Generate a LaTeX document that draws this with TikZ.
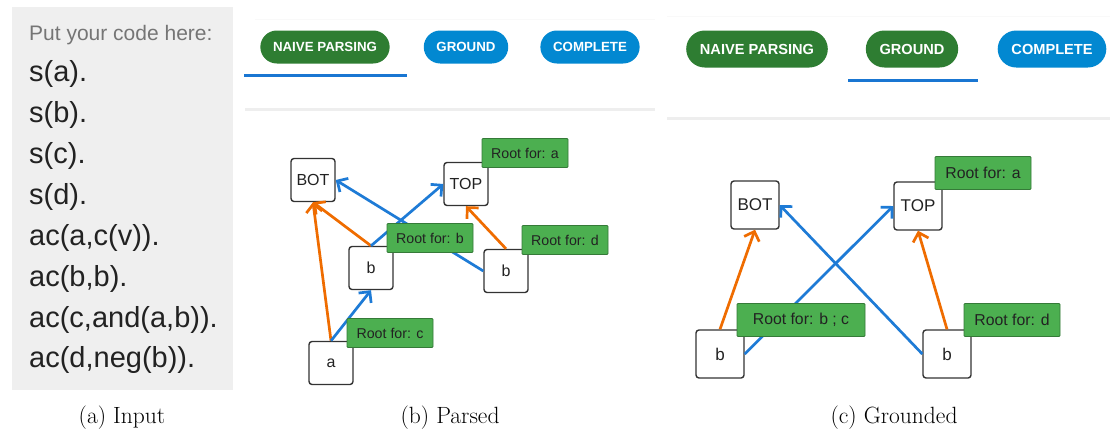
\documentclass[tikz,border=0pt]{standalone}
\usepackage{fontspec}
\newfontfamily\uifont{Liberation Sans}
\usetikzlibrary{arrows.meta,shapes.misc}

\definecolor{panelgray}{HTML}{EFEFEF}
\definecolor{hintgray}{HTML}{757575}
\definecolor{codeink}{HTML}{222222}
\definecolor{pillgreen}{HTML}{2E7D32}
\definecolor{pillblue}{HTML}{0288D1}
\definecolor{tabline}{HTML}{1976D2}
\definecolor{sepgray}{HTML}{EEEEEE}
\definecolor{boxline}{HTML}{333333}
\definecolor{rootgreen}{HTML}{4CAF50}
\definecolor{rootline}{HTML}{357A38}
\definecolor{edgeblue}{HTML}{1E7BD6}
\definecolor{edgeorange}{HTML}{EF6C00}

\tikzset{
  codeline/.style={anchor=base west, inner sep=0pt, text=codeink, font=\uifont\fontsize{29}{32}\selectfont},
  pillb/.style={shape=rounded rectangle, inner xsep=12pt, minimum height=33pt, inner ysep=0pt, text=white, font=\uifont\bfseries\fontsize{13.3}{15}\selectfont},
  pillc/.style={pillb, inner xsep=13pt, minimum height=37pt, font=\uifont\bfseries\fontsize{14.6}{16}\selectfont},
  vbox/.style={draw=boxline, line width=1.4pt, rounded corners=3pt, fill=white, inner sep=0pt, minimum width=44pt, minimum height=43pt, text=codeink, font=\uifont\fontsize{16}{18}\selectfont},
  vboxc/.style={vbox, minimum width=48pt, minimum height=48pt, font=\uifont\fontsize{17}{19}\selectfont},
  rootlbl/.style={draw=rootline, line width=0.8pt, rounded corners=1pt, fill=rootgreen, inner sep=0pt, minimum width=86pt, minimum height=29pt, text=codeink, font=\uifont\fontsize{14.2}{16}\selectfont},
  rootlblc/.style={rootlbl, minimum width=96pt, minimum height=33pt, font=\uifont\fontsize{15.8}{18}\selectfont},
  eblue/.style={draw=edgeblue, line width=2.7pt, -{Straight Barb[length=8pt,width=16pt,line width=2.7pt]}},
  eorange/.style={eblue, draw=edgeorange},
  caption/.style={font=\fontsize{23.5}{26}\selectfont}
}

\begin{document}
\begin{tikzpicture}[x=1pt,y=-1pt]
\useasboundingbox[fill=white] (0,0) rectangle (1110,434);

% (a) input
\fill[panelgray] (12,7) rectangle (233,390);
\node[codeline, text=hintgray, font=\uifont\fontsize{21}{24}\selectfont] (hint) at (29,40) {Put your code here:};
\node[codeline] (l1) at (29,81) {s(a).};
\node[codeline] (l2) at (29,122) {s(b).};
\node[codeline] (l3) at (29,163) {s(c).};
\node[codeline] (l4) at (29,204) {s(d).};
\node[codeline] (l5) at (29,245) {ac(a,c(v)).};
\node[codeline] (l6) at (29,286) {ac(b,b).};
\node[codeline] (l7) at (29,327) {ac(c,and(a,b)).};
\node[codeline] (l8) at (29,367) {ac(d,neg(b)).};

% (b) parsed
\draw[line width=0.6pt, draw=panelgray!35] (255,19) -- (655,19);
\node[pillb, fill=pillgreen] (naiveb) at (325,47) {NAIVE PARSING};
\node[pillb, fill=pillblue] (groundb) at (466,47) {GROUND};
\node[pillb, fill=pillblue] (completeb) at (590,47) {COMPLETE};
\draw[tabline, line width=3pt] (244,75) -- (407,75);
\draw[sepgray, line width=3pt] (245,109) -- (655,109);

\node[vbox] (botb) at (313,180) {BOT};
\node[vbox] (topb) at (466,184) {TOP};
\node[vbox] (bb) at (371,268) {b};
\node[vbox] (bdb) at (506,271) {b};
\node[vbox] (ab) at (331,363) {a};

\draw[eorange] (ab.north) -- (botb.south);
\draw[eblue] (ab.north) -- (bb.south);
\draw[eorange] (bb.north) -- (botb.south);
\draw[eblue] (bb.north) -- (topb.west);
\draw[eblue] (bdb.west) -- (botb.east);
\draw[eorange] (bdb.north) -- (topb.south);

\node[rootlbl] (rab) at (525,153) {Root for: a};
\node[rootlbl] (rbb) at (430,238) {Root for: b};
\node[rootlbl] (rdb) at (565,240) {Root for: d};
\node[rootlbl] (rcb) at (390,333) {Root for: c};

% (c) grounded
\draw[line width=0.6pt, draw=panelgray!35] (667,16) -- (1110,16);
\node[pillc, fill=pillgreen] (naivec) at (757,49) {NAIVE PARSING};
\node[pillc, fill=pillgreen] (groundc) at (912,49) {GROUND};
\node[pillc, fill=pillblue] (completec) at (1052,49) {COMPLETE};
\draw[tabline, line width=3pt] (848,80) -- (978,80);
\draw[sepgray, line width=3pt] (667,118) -- (1110,118);

\node[vboxc] (botc) at (755,205) {BOT};
\node[vboxc] (topc) at (918,206) {TOP};
\node[vboxc] (blc) at (720,354) {b};
\node[vboxc] (brc) at (947,354) {b};

\draw[eorange] (blc.north) -- (botc.south);
\draw[eblue] (blc.east) -- (topc.west);
\draw[eblue] (brc.west) -- (botc.east);
\draw[eorange] (brc.north) -- (topc.south);

\node[rootlblc] (rac) at (983,173) {Root for: a};
\node[rootlblc, minimum width=128pt] (rbcc) at (801,320) {Root for: b ; c};
\node[rootlblc] (rdc) at (1012,320) {Root for: d};

% captions
\node[caption] (capa) at (122,418) {(a) Input};
\node[caption] (capb) at (450,418) {(b) Parsed};
\node[caption] (capc) at (894,418) {(c) Grounded};
\end{tikzpicture}
\end{document}
